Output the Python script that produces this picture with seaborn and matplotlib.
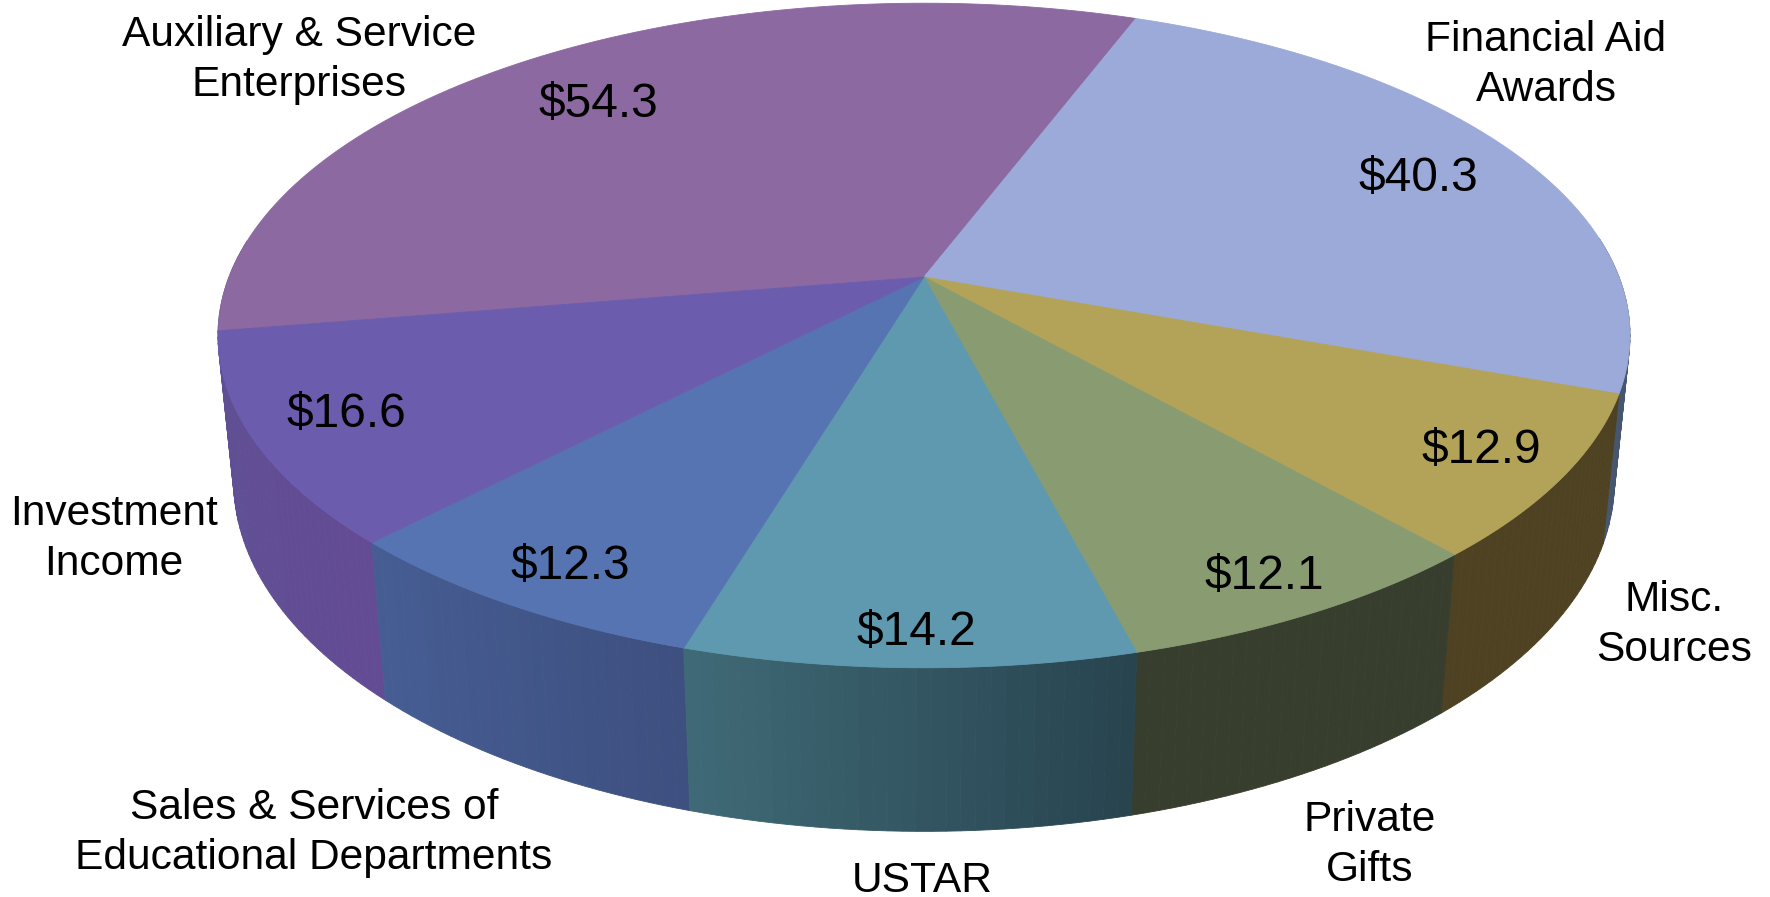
import numpy as np
import matplotlib
matplotlib.use("Agg")
import matplotlib.pyplot as plt
from matplotlib.path import Path
from matplotlib.transforms import Transform
import seaborn as sns

categories = ["Auxiliary & Service\nEnterprises", "Financial Aid\nAwards", "Misc.\nSources",
              "Private\nGifts", "USTAR", "Sales & Services of\nEducational Departments",
              "Investment\nIncome"]
values = [54.3, 40.3, 12.9, 12.1, 14.2, 12.3, 16.6]

top_colors = ["#8D69A2", "#9BAAD8", "#B2A359", "#899B71", "#5E99AF", "#5674B2", "#6C5CAD"]
wall_start = ["#6A5080", "#46566E", "#4E4222", "#383E2D", "#27444F", "#3E5080", "#634C94"]
wall_end = ["#6A5080", "#46566E", "#4E4222", "#383E2D", "#3F6976", "#465D94", "#5F5094"]

label_xy = [(299, 60), (1546, 65), (1674, 625), (1370, 845), (922, 881), (314, 833), (114, 539)]
value_xy = [(598, 105), (1418, 178), (1481, 451), (1264, 576), (916, 633), (570, 567), (346, 415)]

CX, CY, RX, RY, K, DEPTH_H, DEPTH_M = 924.0, 277.0, 695.0, 322.0, 0.176, 147.0, 0.022


def project(x, y, z=0.0):
    w = 1 + K * y + DEPTH_M * z
    return CX + RX * x / w, CY + (-RY * y + DEPTH_H * z) / w


class Tilt(Transform):
    input_dims = output_dims = 2
    is_separable = False
    has_inverse = False

    def transform_non_affine(self, xy):
        xy = np.asarray(xy, float)
        return np.column_stack(project(xy[:, 0], xy[:, 1]))

    def transform_path_non_affine(self, path):
        pts = []
        for seg, code in path.iter_bezier():
            if code == Path.MOVETO:
                continue
            pts.append(seg(np.linspace(0, 1, 30)))
        pts = np.vstack(pts)
        return Path(np.vstack([self.transform_non_affine(pts), [[0, 0]]]),
                    closed=True)


sns.set_theme(style="white")
plt.rcParams["font.family"] = ["Liberation Sans", "DejaVu Sans"]

fig = plt.figure(figsize=(17.7, 8.97), dpi=100, facecolor="white")
ax = fig.add_axes([0, 0, 1, 1])
wedges, _ = ax.pie(values, colors=top_colors, startangle=189.35, counterclock=False,
                   radius=1.0, center=(0, 0))
ax.set_aspect("auto")
ax.set_xlim(0, 1770)
ax.set_ylim(897, 0)
ax.axis("off")

tilt = Tilt()
for w, c in zip(wedges, top_colors):
    w.set_transform(tilt + ax.transData)
    w.set_clip_on(False)
    w.set_zorder(5)
    w.set_edgecolor(c)
    w.set_linewidth(0.6)

# side wall: one thin strip per step along each slice's rim
strips = []
for w, c0, c1 in zip(wedges, wall_start, wall_end):
    span = abs(w.theta2 - w.theta1)
    n = max(int(span), 2)
    pal = sns.blend_palette([c0, c1], n)
    edges = np.radians(np.linspace(w.theta2, w.theta1, n + 1))
    for i in range(n):
        a = edges[i:i + 2]
        if np.sin(a).mean() > 0.12:
            continue
        x, y = np.cos(a), np.sin(a)
        xt, yt = project(x, y)
        xb, yb = project(x, y, 1.0)
        strips.append((-np.sin(a).mean(), np.r_[xt, xb[::-1]], np.r_[yt, yb[::-1]], pal[i]))
for depth, xs, ys, col in sorted(strips, key=lambda s: s[0]):
    ax.fill(xs, ys, color=col, lw=0.6, zorder=2)

for txt, (x, y) in zip(categories, label_xy):
    ax.text(x, y, txt, ha="center", va="center", fontsize=30.6, color="black",
            linespacing=1.30, zorder=6)
for v, (x, y) in zip(values, value_xy):
    ax.text(x, y, f"${v}", ha="center", va="center", fontsize=34.5, color="black", zorder=6)

fig.savefig("out.png", dpi=100, facecolor="white")
